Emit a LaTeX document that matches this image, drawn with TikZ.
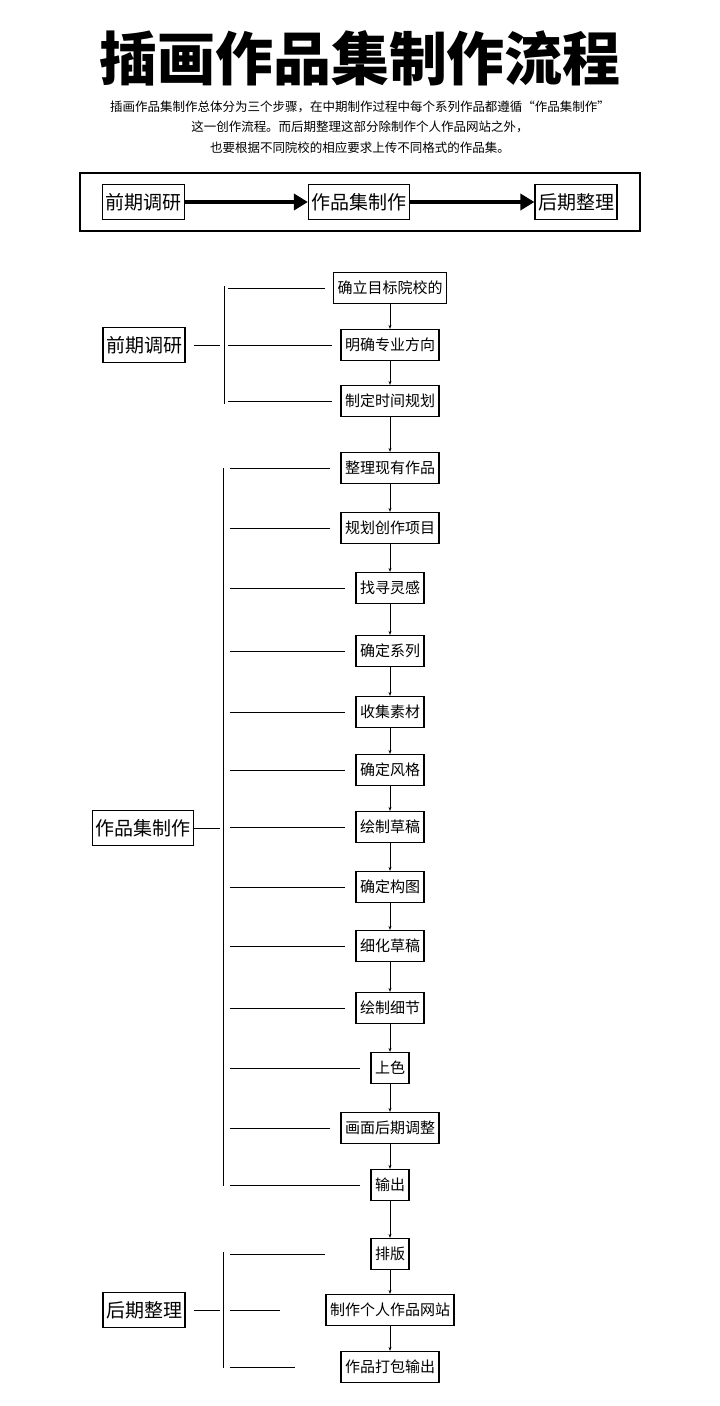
\documentclass[tikz,border=0pt]{standalone}
\usepackage{fontspec}
\newfontfamily\cjk{Noto Sans CJK SC}
\usetikzlibrary{arrows.meta}
\begin{document}
\begin{tikzpicture}[x=1pt,y=-1pt,
  stepbox/.style={draw,line width=1.2pt,font=\cjk\fontsize{15}{15}\selectfont,inner xsep=4pt,minimum height=31pt},
  bigbox/.style={draw,line width=1.2pt,font=\cjk\fontsize{19}{19}\selectfont,inner xsep=3pt,minimum height=35pt},
  conn/.style={line width=0.9pt},
  flow/.style={line width=0.6pt,-{Stealth[length=4pt,width=3pt]}},
  fat/.style={line width=3.5pt,-{Triangle[length=14pt,width=16pt]}}]
\useasboundingbox (0,0) rectangle (720,1406);
\node (title) at (360,58) {\cjk\bfseries\fontsize{58}{58}\selectfont 插画作品集制作流程};
\node (sub) at (360,127) [align=center,font=\cjk\fontsize{12.5}{20.5}\selectfont] {插画作品集制作总体分为三个步骤，在中期制作过程中每个系列作品都遵循“作品集制作”\\这一创作流程。而后期整理这部分除制作个人作品网站之外，\\也要根据不同院校的相应要求上传不同格式的作品集。};
\node (frame) [draw,line width=1.2pt,minimum width=560pt,minimum height=58pt] at (360,202) {};
\node (t1) [bigbox] at (143.5,202) {前期调研};
\node (t2) [bigbox] at (359,202) {作品集制作};
\node (t3) [bigbox] at (576,202) {后期整理};
\draw[fat] (t1) -- (t2);
\draw[fat] (t2) -- (t3);
% group 1
\node (g1) [bigbox] at (144,345) {前期调研};
\node (a1) [stepbox] at (390,288) {确立目标院校的};
\node (a2) [stepbox] at (390,345) {明确专业方向};
\node (a3) [stepbox] at (390,401) {制定时间规划};
\coordinate (v1t) at (224,286); \coordinate (v1b) at (224,404);
\draw[conn] (v1t) -- (v1b);
\draw[conn] (g1.east) ++(8,0) coordinate (g1e) -- (220,345);
\draw[conn] (228,288) -- ([xshift=-8pt]a1.west);
\draw[conn] (228,345) -- ([xshift=-8pt]a2.west);
\draw[conn] (228,401) -- ([xshift=-8pt]a3.west);
% group 2
\node (g2) [bigbox] at (143,828) {作品集制作};
\foreach \n/\y/\t in {b1/468/整理现有作品,b2/528/规划创作项目,b3/588/找寻灵感,b4/651/确定系列,b5/712/收集素材,b6/770/确定风格,b7/827/绘制草稿,b8/887/确定构图,b9/946/细化草稿,b10/1008/绘制细节,b11/1068/上色,b12/1128/画面后期调整,b13/1185/输出}{
  \node (\n) [stepbox] at (390,\y) {\t};
  \draw[conn] (230,\y) -- ([xshift=-10pt]\n.west);
}
\draw[conn] (223,468) -- (223,1186);
\draw[conn] (g2.east) -- (220,828);
% group 3
\node (g3) [bigbox] at (144,1310) {后期整理};
\foreach \n/\y/\t in {c1/1254/排版,c2/1310/制作个人作品网站,c3/1367/作品打包输出}{
  \node (\n) [stepbox] at (390,\y) {\t};
  \draw[conn] (230,\y) -- ([xshift=-45pt]\n.west);
}
\draw[conn] (223,1252) -- (223,1368);
\draw[conn] ([xshift=8pt]g3.east) -- (220,1310);
% flow arrows
\foreach \a/\b in {a1/a2,a2/a3,a3/b1,b1/b2,b2/b3,b3/b4,b4/b5,b5/b6,b6/b7,b7/b8,b8/b9,b9/b10,b10/b11,b11/b12,b12/b13,b13/c1,c1/c2,c2/c3}
  \draw[flow] (\a.south) -- (\b.north);
\end{tikzpicture}
\end{document}
